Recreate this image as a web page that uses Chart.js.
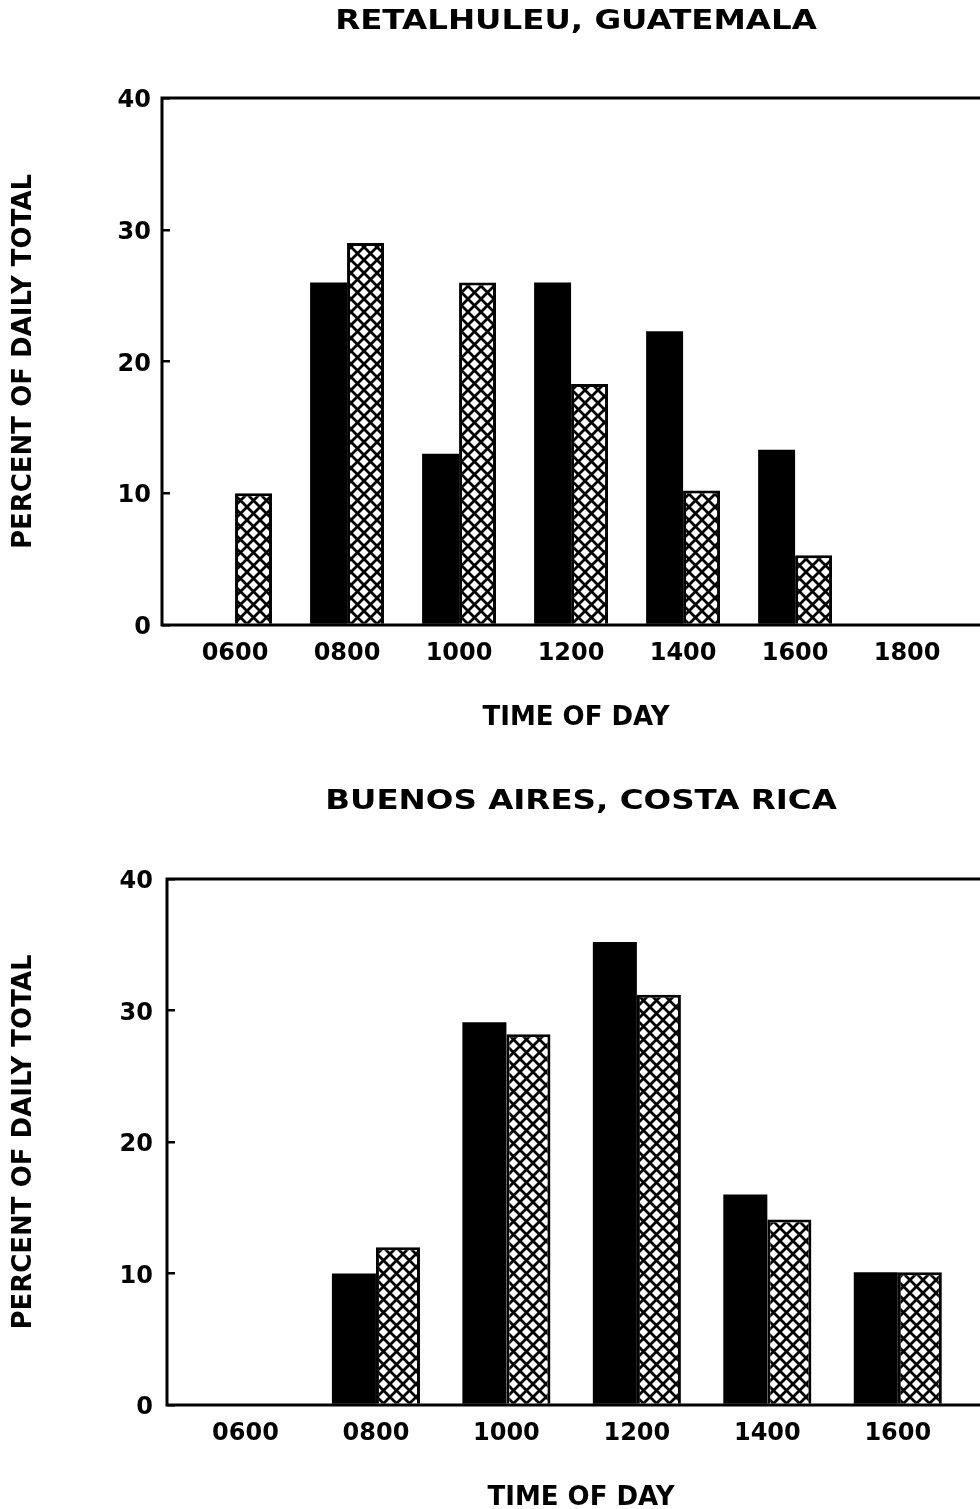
<!DOCTYPE html>
<html>
<head>
<meta charset="utf-8">
<title>Percent of daily total by time of day</title>
<script src="https://cdn.jsdelivr.net/npm/chart.js@4.4.1/dist/chart.umd.min.js"></script>
<style>
  html, body { margin: 0; padding: 0; background: #fff; overflow: hidden; width: 980px; height: 1509px; }
  canvas { position: absolute; left: 0; }
  #chartTop { top: 0; }
  #chartBottom { top: 760px; }
</style>
</head>
<body>
<canvas id="chartTop" width="1000" height="760"></canvas>
<canvas id="chartBottom" width="1000" height="780"></canvas>
<script>
// Time of day for each site (x axis)
const horasRetalhuleu = ['0600', '0800', '1000', '1200', '1400', '1600', '1800'];
const horasBuenosAires = ['0600', '0800', '1000', '1200', '1400', '1600'];

// Retalhuleu, Guatemala: percent of daily total
const solidRetalhuleu = [0, 26, 13, 26, 22.3, 13.3, 0];   // black bars
const hatchRetalhuleu = [10, 29, 26, 18.3, 10.2, 5.3, 0]; // cross-hatched bars

// Buenos Aires, Costa Rica: percent of daily total
const solidBuenosAires = [0, 10, 29.1, 35.2, 16, 10.1];
const hatchBuenosAires = [0, 12, 28.2, 31.2, 14.1, 10.1];

// Y axis ticks
const yTicks = [0, 10, 20, 30, 40];

Chart.defaults.font.family = '"DejaVu Sans", sans-serif';
Chart.defaults.font.weight = 'bold';
Chart.defaults.color = '#000';

// Cross-hatch pattern used to fill the second series
function crossHatch() {
    const p = document.createElement('canvas');
    p.width = p.height = 13;
    const c = p.getContext('2d');
    c.fillStyle = '#fff';
    c.fillRect(0, 0, 13, 13);
    c.strokeStyle = '#000';
    c.lineWidth = 2.8;
    c.beginPath();
    c.moveTo(-1, -1); c.lineTo(14, 14);
    c.moveTo(14, -1); c.lineTo(-1, 14);
    c.stroke();
    return c.createPattern(p, 'repeat');
}

// Box around the plot area
const framePlugin = {
    id: 'frame',
    afterDatasetsDraw(chart) {
        const { ctx, chartArea: a } = chart;
        ctx.save();
        ctx.strokeStyle = '#000';
        ctx.lineWidth = 3;
        ctx.strokeRect(a.left, a.top, a.right - a.left, a.bottom - a.top);
        ctx.restore();
    }
};

// Wide title above the plot, centred on the plot area
const wideTitlePlugin = {
    id: 'wideTitle',
    afterDraw(chart, args, opts) {
        const { ctx, chartArea: a } = chart;
        ctx.save();
        ctx.font = 'bold 26px "DejaVu Sans"';
        ctx.fillStyle = '#000';
        ctx.textAlign = 'center';
        ctx.textBaseline = 'middle';
        ctx.translate((a.left + a.right) / 2, opts.y);
        ctx.scale(opts.stretch, 1);
        ctx.fillText(opts.text, 0, 0);
        ctx.restore();
    }
};

function makeChart(id, title, horas, solid, hatch, cfg) {
    const xs = horas.map(h => Number(h) / 100);
    return new Chart(document.getElementById(id), {
        type: 'bar',
        data: {
            datasets: [
                {
                    data: xs.map((x, i) => ({ x: x, y: solid[i] })),
                    backgroundColor: '#000',
                    borderWidth: 0
                },
                {
                    data: xs.map((x, i) => ({ x: x, y: hatch[i] })),
                    backgroundColor: crossHatch(),
                    borderColor: '#000',
                    borderWidth: 3
                }
            ]
        },
        options: {
            responsive: false,
            animation: false,
            events: [],
            categoryPercentage: cfg.catPct,
            barPercentage: 1,
            layout: { padding: { top: cfg.top, right: cfg.right, left: 0, bottom: 0 } },
            scales: {
                x: {
                    type: 'linear',
                    offset: false,
                    min: cfg.xMin,
                    max: cfg.xMax,
                    afterBuildTicks: s => { s.ticks = xs.map(v => ({ value: v })); },
                    afterFit: s => { s.height = 135; },
                    grid: { display: false, drawTicks: false },
                    border: { display: false },
                    ticks: {
                        font: { size: 24 },
                        padding: 14,
                        maxRotation: 0,
                        callback: v => String(Math.round(v * 100)).padStart(4, '0')
                    },
                    title: {
                        display: true,
                        text: 'TIME OF DAY',
                        font: { size: 26 },
                        padding: { top: 0, bottom: 26 }
                    }
                },
                y: {
                    min: 0,
                    max: 40,
                    afterBuildTicks: s => { s.ticks = yTicks.map(v => ({ value: v })); },
                    afterFit: s => { s.width = cfg.yWidth; },
                    grid: { drawOnChartArea: false, drawTicks: true, tickLength: -8, color: '#000', lineWidth: 2.5 },
                    border: { display: false },
                    ticks: { font: { size: 24 }, padding: cfg.yPad, labelOffset: 3 },
                    title: {
                        display: true,
                        text: 'PERCENT OF DAILY TOTAL',
                        font: { size: 26 },
                        padding: { top: 9, bottom: 0 }
                    }
                }
            },
            plugins: {
                legend: { display: false },
                tooltip: { enabled: false },
                wideTitle: { text: title, y: cfg.titleY, stretch: 1.25 }
            }
        },
        plugins: [framePlugin, wideTitlePlugin]
    });
}

makeChart('chartTop', 'RETALHULEU, GUATEMALA', horasRetalhuleu, solidRetalhuleu, hatchRetalhuleu,
    { top: 98, right: 10, yWidth: 162, yPad: 19, xMin: 4.696, xMax: 19.48, catPct: 0.66, titleY: 22 });

makeChart('chartBottom', 'BUENOS AIRES, COSTA RICA', horasBuenosAires, solidBuenosAires, hatchBuenosAires,
    { top: 119, right: 5, yWidth: 167, yPad: 22, xMin: 4.797, xMax: 17.49, catPct: 0.675, titleY: 42 });
</script>
</body>
</html>
